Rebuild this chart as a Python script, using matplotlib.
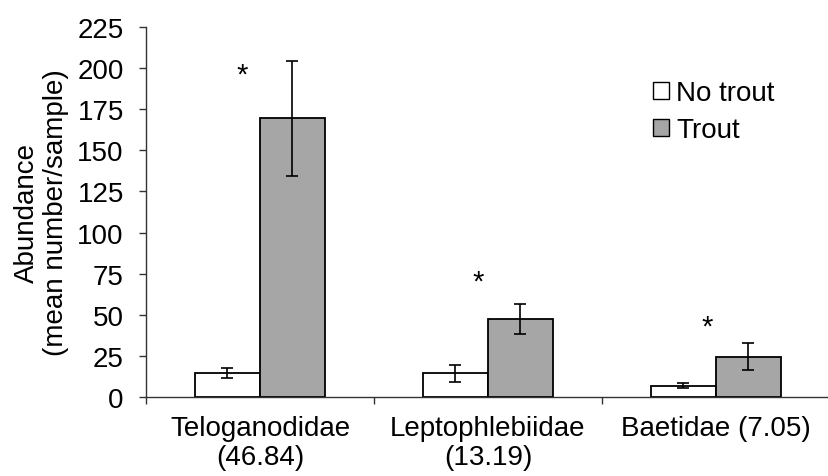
import matplotlib
matplotlib.use("Agg")
import matplotlib.pyplot as plt
import numpy as np

categories = ["Teloganodidae\n(46.84)", "Leptophlebiidae\n(13.19)", "Baetidae (7.05)"]
no_trout = [14.5, 14.2, 6.8]
no_trout_err = [3.2, 5.0, 1.4]
trout = [169.5, 47.5, 24.3]
trout_err = [35.0, 9.2, 8.2]
star_y = [199, 72.9, 45.7]
star_x_offset = [-0.08, -0.045, -0.04]
series_names = ["No trout", "Trout"]
yticks = [0, 25, 50, 75, 100, 125, 150, 175, 200, 225]

plt.rcParams['font.family'] = ['Liberation Sans', 'DejaVu Sans']
plt.rcParams['font.size'] = 20

fig = plt.figure(figsize=(8.29, 4.77), dpi=100)
ax = fig.add_axes([0.1761, 0.1663, 0.825, 0.7744])

x = np.arange(len(categories))
w = 0.285
ekw = dict(ecolor='black', elinewidth=1.2, capsize=4.5, capthick=1.2)
ax.bar(x - w/2, no_trout, w, yerr=no_trout_err, color='white', edgecolor='black',
       linewidth=1.3, error_kw=ekw, label=series_names[0], zorder=2)
ax.bar(x + w/2, trout, w, yerr=trout_err, color='#a6a6a6', edgecolor='black',
       linewidth=1.3, error_kw=ekw, label=series_names[1], zorder=2)

for i in range(len(categories)):
    ax.annotate("*", xy=(x[i] + star_x_offset[i], star_y[i]), xytext=(0, -9),
                textcoords='offset points', ha='center', va='baseline', fontsize=21)

ax.set_xlim(-0.5, len(categories) - 0.5)
ax.set_ylim(0, 225)
ax.set_yticks(yticks)
ax.set_xticks(np.arange(len(categories) + 1) - 0.5)
ax.set_xticklabels([])
ax.set_xticks(x, minor=True)
ax.set_xticklabels(categories, minor=True, linespacing=1.15)
ax.tick_params(axis='x', which='minor', length=0, pad=13.5)
ax.tick_params(axis='x', which='major', direction='out', length=5, width=1, color='#333333')
ax.tick_params(axis='y', direction='out', length=5, width=1, color='#333333', pad=11)

for s in ['top', 'right']:
    ax.spines[s].set_visible(False)
for s in ['left', 'bottom']:
    ax.spines[s].set_color('#333333')
    ax.spines[s].set_linewidth(1.0)

ax.set_ylabel("Abundance\n(mean number/sample)", labelpad=6, linespacing=1.15)

leg = fig.legend(handles=ax.patches[:1] + ax.patches[3:4], labels=series_names,
                 loc='upper left', bbox_to_anchor=(653/829, 1 - 81/477),
                 bbox_transform=fig.transFigure, frameon=False, borderpad=0,
                 borderaxespad=0, handlelength=0.58, handleheight=0.58,
                 handletextpad=0.25, labelspacing=0.4, fontsize=20)
for h in leg.legend_handles:
    h.set_linewidth(1.0)

fig.savefig("out.png", dpi=100)
